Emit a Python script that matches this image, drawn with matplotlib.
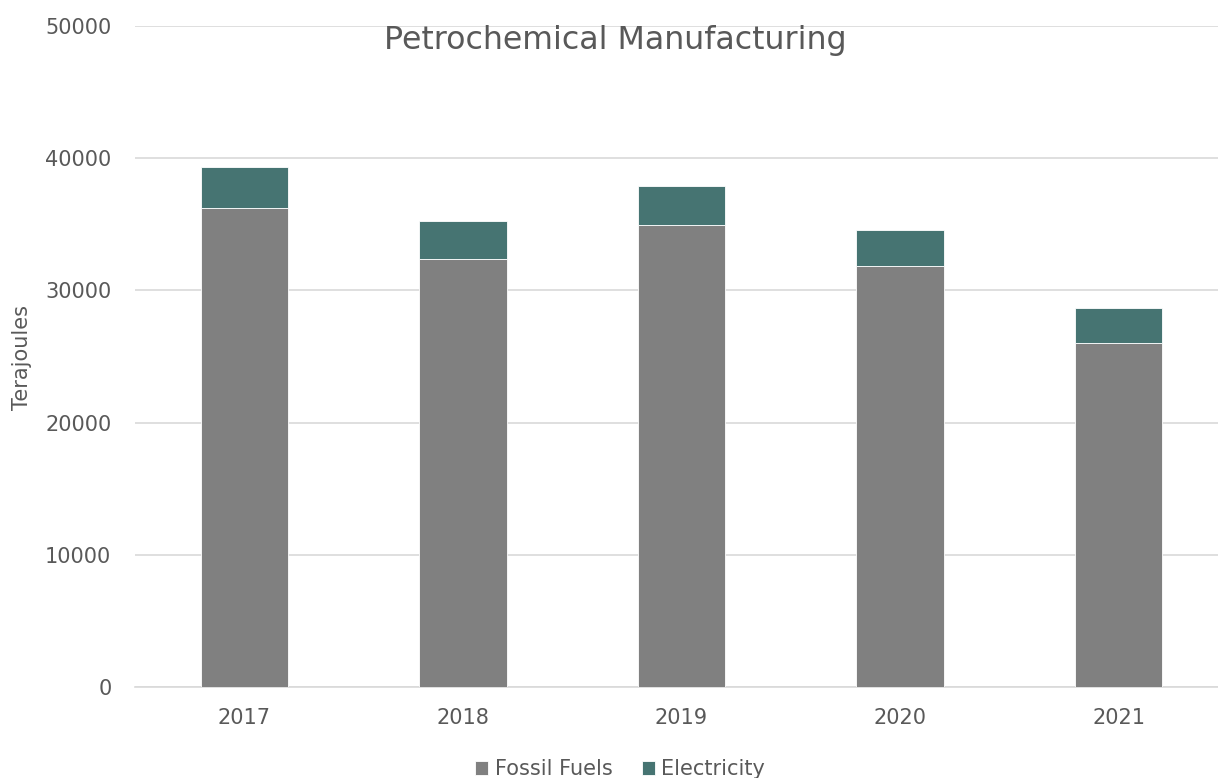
import matplotlib.pyplot as plt
import numpy as np

years = ['2017', '2018', '2019', '2020', '2021']
fossil_fuels = [36200, 32400, 34950, 31850, 26000]
electricity = [3130, 2880, 2950, 2720, 2670]

plt.rcParams['font.family'] = ['DejaVu Sans']

fig = plt.figure(figsize=(12.18, 7.78), dpi=100)
ax = fig.add_axes([135 / 1218, 91 / 778, 1093 / 1218, 661 / 778])

x = np.arange(len(years))
ax.bar(x, fossil_fuels, width=0.4, color='#808080', edgecolor='white',
       linewidth=0.6, label='Fossil Fuels', zorder=3)
ax.bar(x, electricity, width=0.4, bottom=fossil_fuels, color='#467472',
       edgecolor='white', linewidth=0.6, label='Electricity', zorder=3)

ax.set_xlim(-0.5, 4.5)
ax.set_ylim(0, 50000)
ax.set_yticks(np.arange(0, 50001, 10000))
ax.set_xticks(x)
ax.set_xticklabels(years)
ax.tick_params(axis='both', length=0, labelsize=15, colors='#595959')
ax.tick_params(axis='y', pad=17)
ax.tick_params(axis='x', pad=15)
ax.grid(axis='y', color='#d9d9d9', linewidth=1.2, zorder=0)
for side in ['top', 'right', 'left']:
    ax.spines[side].set_visible(False)
ax.spines['bottom'].set_color('#d9d9d9')
ax.spines['bottom'].set_linewidth(1.2)

fig.text(22 / 1218, 1 - 358 / 778, 'Terajoules', rotation=90, ha='center',
         va='center', fontsize=15, color='#595959')
fig.text(615 / 1218, 1 - 40 / 778, 'Petrochemical Manufacturing', ha='center',
         va='center', fontsize=22.8, color='#595959')

fig.legend(loc='center', bbox_to_anchor=(620 / 1218, 1 - 769 / 778), ncol=2,
           frameon=False, fontsize=15, labelcolor='#595959',
           handlelength=0.65, handleheight=0.65, handletextpad=0.3,
           columnspacing=1.4)

fig.savefig('out.png', dpi=100)
